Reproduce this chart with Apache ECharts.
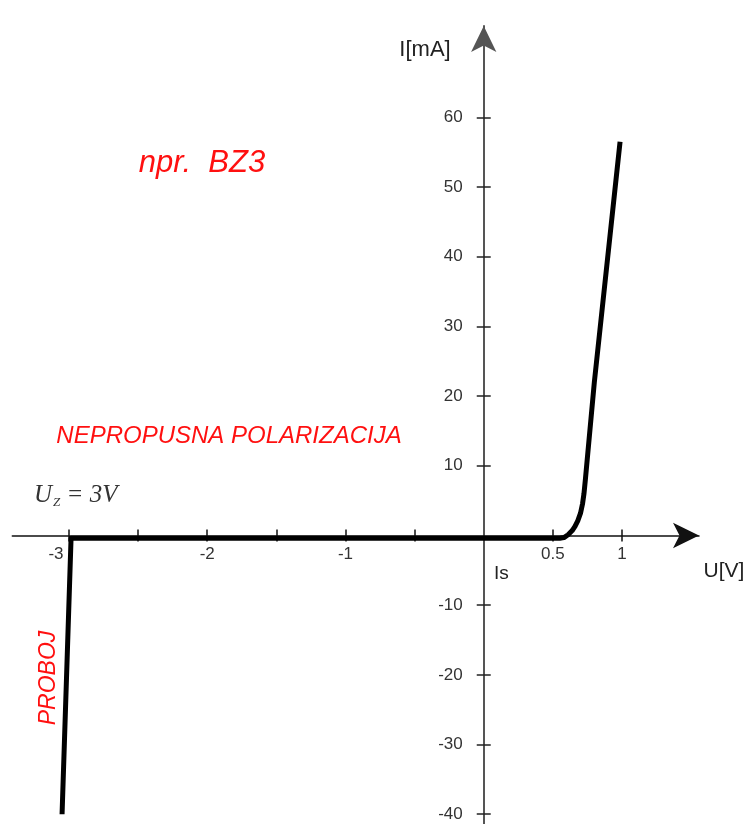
<!DOCTYPE html>
<html>
<head>
<meta charset="utf-8">
<script src="https://cdn.jsdelivr.net/npm/echarts@6/dist/echarts.min.js"></script>
<style>
html,body{margin:0;padding:0;background:#fff;}
#chart{width:749px;height:824px;}
</style>
</head>
<body>
<div id="chart"></div>
<script>
// Diode (Zener) characteristic: U [V] vs I [mA]
const uValues = [-3.05, -2.985, 0.55, 0.58, 0.61, 0.64, 0.66, 0.68, 0.70, 0.715, 0.725, 0.735, 0.80, 0.986];
const iValues = [-40, -0.4, -0.4, -0.3, 0.1, 0.7, 1.3, 2.1, 3.2, 4.6, 6.0, 8.0, 22.0, 56.5];

const xTickValues = [-3, -2.5, -2, -1.5, -1, -0.5, 0.5, 1];
const xLabelValues = [-3, -2, -1, 0.5, 1];
const yTickValues = [-40, -30, -20, -10, 10, 20, 30, 40, 50, 60];
const yLabelValues = [-40, -30, -20, -10, 10, 20, 30, 40, 50, 60];

const X_MIN = -3.41, X_MAX = 1.557;
const Y_MIN = -41.4, Y_MAX = 73.1;

// layout of the plotting area (pixels)
const W = 749, H = 824;
const G_LEFT = 12.3, G_RIGHT = 50, G_TOP = 26, G_BOTTOM = 0;
const gw = W - G_LEFT - G_RIGHT, gh = H - G_TOP - G_BOTTOM;
// distance from grid edges to the zero lines
const zeroFromLeft = (0 - X_MIN) / (X_MAX - X_MIN) * gw;
const zeroFromRight = gw - zeroFromLeft;
const zeroFromTop = (Y_MAX - 0) / (Y_MAX - Y_MIN) * gh;
const zeroFromBottom = gh - zeroFromTop;

const chart = echarts.init(document.getElementById('chart'));
const seriesData = uValues.map((u, k) => [u, iValues[k]]);

const labelFont = {fontSize: 17, color: '#333', fontFamily: 'Liberation Sans, Arial, sans-serif'};

chart.setOption({
  animation: false,
  backgroundColor: '#fff',
  grid: {left: G_LEFT, right: G_RIGHT, top: G_TOP, bottom: G_BOTTOM, containLabel: false, outerBoundsMode: 'none'},
  xAxis: [
    {
      type: 'value', min: X_MIN, max: X_MAX, position: 'bottom', offset: -zeroFromBottom,
      axisLine: {show: true, onZero: false, symbol: ['none', 'arrow'], symbolSize: [19, 26],
        lineStyle: {color: '#111', width: 1.5}},
      axisTick: {show: true, customValues: xTickValues, length: 6, lineStyle: {color: '#111', width: 1.5}},
      axisLabel: Object.assign({
        show: true, customValues: xLabelValues, margin: 10,
        formatter: v => v === -3 ? '{l|-3}' : String(v),
        rich: {l: {fontSize: 17, color: '#333', padding: [0, 26, 0, 0]}}
      }, labelFont),
      splitLine: {show: false}
    },
    {
      type: 'value', min: X_MIN, max: X_MAX, position: 'top', offset: -zeroFromTop,
      axisLine: {show: false, onZero: false},
      axisTick: {show: true, customValues: xTickValues, length: 6, lineStyle: {color: '#111', width: 1.5}},
      axisLabel: {show: false},
      splitLine: {show: false}
    }
  ],
  yAxis: [
    {
      type: 'value', min: Y_MIN, max: Y_MAX, position: 'left', offset: -zeroFromLeft,
      axisLine: {show: true, onZero: false, symbol: ['none', 'arrow'], symbolSize: [19, 26],
        lineStyle: {color: '#555', width: 2}},
      axisTick: {show: true, customValues: yTickValues, length: 7, lineStyle: {color: '#222', width: 1.5}},
      axisLabel: Object.assign({show: true, customValues: yLabelValues, margin: 21}, labelFont),
      splitLine: {show: false}
    },
    {
      type: 'value', min: Y_MIN, max: Y_MAX, position: 'right', offset: -zeroFromRight,
      axisLine: {show: false, onZero: false},
      axisTick: {show: true, customValues: yTickValues, length: 7, lineStyle: {color: '#222', width: 1.5}},
      axisLabel: {show: false},
      splitLine: {show: false}
    }
  ],
  series: [{
    type: 'line', xAxisIndex: 0, yAxisIndex: 0,
    data: seriesData, showSymbol: false, smooth: false, clip: false,
    lineStyle: {color: '#000', width: 5, join: 'round', cap: 'butt'}
  }],
  graphic: [
    {type: 'text', style: {x: 202, y: 163, text: 'npr.  BZ3', align: 'center', verticalAlign: 'middle',
      font: 'italic 31px "Liberation Sans", Arial, sans-serif', fill: '#ff1010'}},
    {type: 'text', style: {x: 229, y: 436, text: 'NEPROPUSNA POLARIZACIJA', align: 'center', verticalAlign: 'middle',
      font: 'italic 24px "Liberation Sans", Arial, sans-serif', fill: '#ff1010'}},
    {type: 'text', x: 49, y: 678, rotation: Math.PI / 2,
      style: {x: 0, y: 0, text: 'PROBOJ', align: 'center', verticalAlign: 'middle',
      font: 'italic 23px "Liberation Sans", Arial, sans-serif', fill: '#ff1010'}},
    {type: 'text', style: {x: 34, y: 495, text: '{u|U}{z|Z}{r| = 3V}', verticalAlign: 'middle',
      rich: {
        u: {font: 'italic 25px "Liberation Serif", "Times New Roman", serif', fill: '#333'},
        z: {font: 'italic 13px "Liberation Serif", "Times New Roman", serif', fill: '#333', padding: [16, 0, 0, 1]},
        r: {font: 'italic 25px "Liberation Serif", "Times New Roman", serif', fill: '#333'}
      }}},
    {type: 'text', style: {x: 494, y: 574, text: 'Is', verticalAlign: 'middle',
      font: '19px "Liberation Sans", Arial, sans-serif', fill: '#222'}},
    {type: 'text', style: {x: 724, y: 571, text: 'U[V]', align: 'center', verticalAlign: 'middle',
      font: '21px "Liberation Sans", Arial, sans-serif', fill: '#222'}},
    {type: 'text', style: {x: 425, y: 50, text: 'I[mA]', align: 'center', verticalAlign: 'middle',
      font: '22px "Liberation Sans", Arial, sans-serif', fill: '#222'}}
  ]
});
</script>
</body>
</html>
